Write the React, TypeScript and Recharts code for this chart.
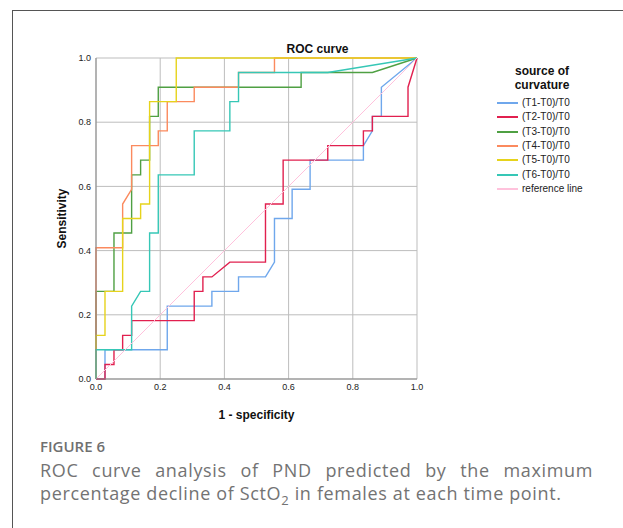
import { LineChart, Line, XAxis, YAxis, CartesianGrid } from "recharts";

// ROC points: [1 - specificity, sensitivity]
const t1Points: [number, number][] = [
  [0, 0], [0.028, 0], [0.028, 0.091], [0.222, 0.091], [0.222, 0.227], [0.361, 0.227],
  [0.361, 0.273], [0.444, 0.273], [0.444, 0.318], [0.528, 0.318], [0.556, 0.364],
  [0.556, 0.5], [0.611, 0.5], [0.611, 0.591], [0.667, 0.591], [0.667, 0.682],
  [0.833, 0.682], [0.833, 0.727], [0.861, 0.773], [0.861, 0.818], [0.889, 0.818],
  [0.889, 0.909], [1, 1],
];
const t2Points: [number, number][] = [
  [0, 0], [0.028, 0], [0.028, 0.045], [0.056, 0.045], [0.056, 0.091], [0.083, 0.091],
  [0.083, 0.136], [0.111, 0.136], [0.111, 0.182], [0.306, 0.182], [0.306, 0.273],
  [0.333, 0.273], [0.333, 0.318], [0.361, 0.318], [0.417, 0.364], [0.528, 0.364],
  [0.528, 0.545], [0.583, 0.545], [0.583, 0.682], [0.722, 0.682], [0.722, 0.727],
  [0.833, 0.727], [0.833, 0.773], [0.861, 0.773], [0.861, 0.818], [0.972, 0.818],
  [0.972, 0.909], [1, 1],
];
const t3Points: [number, number][] = [
  [0, 0], [0, 0.273], [0.056, 0.273], [0.056, 0.455], [0.111, 0.455], [0.111, 0.636],
  [0.139, 0.636], [0.139, 0.682], [0.167, 0.682], [0.167, 0.818], [0.194, 0.818],
  [0.194, 0.909], [0.639, 0.909], [0.639, 0.955], [0.861, 0.955], [1, 1],
];
const t4Points: [number, number][] = [
  [0, 0], [0, 0.409], [0.083, 0.409], [0.083, 0.545], [0.111, 0.591], [0.111, 0.727],
  [0.194, 0.727], [0.194, 0.773], [0.222, 0.773], [0.222, 0.864], [0.306, 0.864],
  [0.306, 0.909], [0.444, 0.909], [0.444, 0.955], [0.556, 0.955], [0.556, 1], [1, 1],
];
const t5Points: [number, number][] = [
  [0, 0], [0, 0.136], [0.028, 0.136], [0.028, 0.273], [0.083, 0.273], [0.083, 0.5],
  [0.139, 0.5], [0.139, 0.545], [0.167, 0.545], [0.167, 0.864], [0.25, 0.864],
  [0.25, 1], [1, 1],
];
const t6Points: [number, number][] = [
  [0, 0], [0, 0.091], [0.111, 0.091], [0.111, 0.227], [0.139, 0.273], [0.167, 0.273],
  [0.167, 0.455], [0.194, 0.455], [0.194, 0.636], [0.306, 0.636], [0.306, 0.773],
  [0.417, 0.773], [0.417, 0.864], [0.444, 0.864], [0.444, 0.955], [0.722, 0.955], [1, 1],
];
const refPoints: [number, number][] = [[0, 0], [1, 1]];

const seriesNames = [
  "(T1-T0)/T0", "(T2-T0)/T0", "(T3-T0)/T0", "(T4-T0)/T0", "(T5-T0)/T0", "(T6-T0)/T0", "reference line",
];
const axisTicks = [0, 0.2, 0.4, 0.6, 0.8, 1.0];

const colors = ["#6fa7ec", "#e1204f", "#4fa043", "#fb8a5e", "#e6d31c", "#36c7b6", "#ffc2dc"];

const toXY = (pts: [number, number][]) => pts.map(([x, y]) => ({ x, y }));
const allSeries = [t1Points, t2Points, t3Points, t4Points, t5Points, t6Points, refPoints].map(toXY);

const chartFont = "'Liberation Sans', Arial, sans-serif";
const captionFont = "'Open Sans', 'Noto Sans', sans-serif";

export default function App() {
  return (
    <div
      style={{
        position: "absolute", left: 0, top: 0, width: 623, height: 528,
        overflow: "hidden", background: "#fff", fontFamily: chartFont,
      }}
    >
      {/* figure frame (open at right/bottom) */}
      <div
        style={{
          position: "absolute", left: 12, top: 10, width: 700, height: 600,
          borderTop: "1.5px solid #555", borderLeft: "1.5px solid #555",
        }}
      />

      <div style={{ position: "absolute", left: 0, top: 0 }}>
        <LineChart width={623} height={430} margin={{ top: 58, right: 206, bottom: 21, left: 28 }}>
          <CartesianGrid stroke="#bdbdbd" strokeWidth={1} />
          <XAxis
            type="number"
            dataKey="x"
            domain={[0, 1]}
            ticks={axisTicks}
            tickFormatter={(v) => Number(v).toFixed(1)}
            tick={{ fontSize: 9, fill: "#222", fontFamily: chartFont }}
            tickLine={false}
            tickSize={3}
            tickMargin={2}
            height={30}
            stroke="#888"
            label={{
              value: "1 - specificity",
              position: "bottom",
              offset: 1,
              style: { fontSize: 12, fontWeight: 700, fill: "#111", fontFamily: chartFont },
            }}
          />
          <YAxis
            type="number"
            dataKey="y"
            domain={[0, 1]}
            ticks={axisTicks}
            tickFormatter={(v) => Number(v).toFixed(1)}
            tick={{ fontSize: 9, fill: "#222", fontFamily: chartFont }}
            tickLine={false}
            tickSize={3}
            tickMargin={2}
            width={68}
            stroke="#888"
            label={{
              value: "Sensitivity",
              angle: -90,
              position: "center",
              style: { fontSize: 12, fontWeight: 700, fill: "#111", fontFamily: chartFont, textAnchor: "middle" },
            }}
          />
          {allSeries.map((data, i) => (
            <Line
              key={seriesNames[i]}
              data={data}
              dataKey="y"
              name={seriesNames[i]}
              type="linear"
              stroke={colors[i]}
              strokeWidth={i === 6 ? 1 : 1.4}
              dot={false}
              activeDot={false}
              isAnimationActive={false}
            />
          ))}
        </LineChart>
      </div>

      {/* chart title */}
      <div
        style={{
          position: "absolute", left: 240, width: 155, top: 41, textAlign: "center",
          fontSize: 12, fontWeight: 700, color: "#111", lineHeight: "16px",
        }}
      >
        ROC curve
      </div>

      {/* legend */}
      <div
        style={{
          position: "absolute", left: 490, width: 104, top: 64, textAlign: "center",
          fontSize: 12, fontWeight: 700, color: "#111", lineHeight: "14px",
        }}
      >
        source of
        <br />
        curvature
      </div>
      {seriesNames.map((name, i) => (
        <div
          key={name}
          style={{
            position: "absolute", left: 497, top: 96 + i * 14.35, height: 14,
            display: "flex", alignItems: "center", fontSize: 10, color: "#222",
          }}
        >
          <span style={{ display: "inline-block", width: 21, height: 2, background: colors[i], marginRight: 4 }} />
          <span style={{ lineHeight: "14px" }}>{name}</span>
        </div>
      ))}

      {/* caption */}
      <div
        style={{
          position: "absolute", left: 40, top: 436, fontFamily: captionFont,
          fontSize: 15, fontWeight: 600, color: "#707070", lineHeight: "20px",
        }}
      >
        FIGURE 6
      </div>
      <div
        style={{
          position: "absolute", left: 40, width: 553, top: 459, fontFamily: captionFont,
          fontSize: 18, color: "#737373", lineHeight: "23px", letterSpacing: 0.65,
        }}
      >
        <div style={{ textAlign: "justify", textAlignLast: "justify" }}>
          ROC curve analysis of PND predicted by the maximum
        </div>
        <div>
          percentage decline of SctO<sub style={{ fontSize: 13, lineHeight: 0 }}>2</sub> in females at each time point.
        </div>
      </div>
    </div>
  );
}
